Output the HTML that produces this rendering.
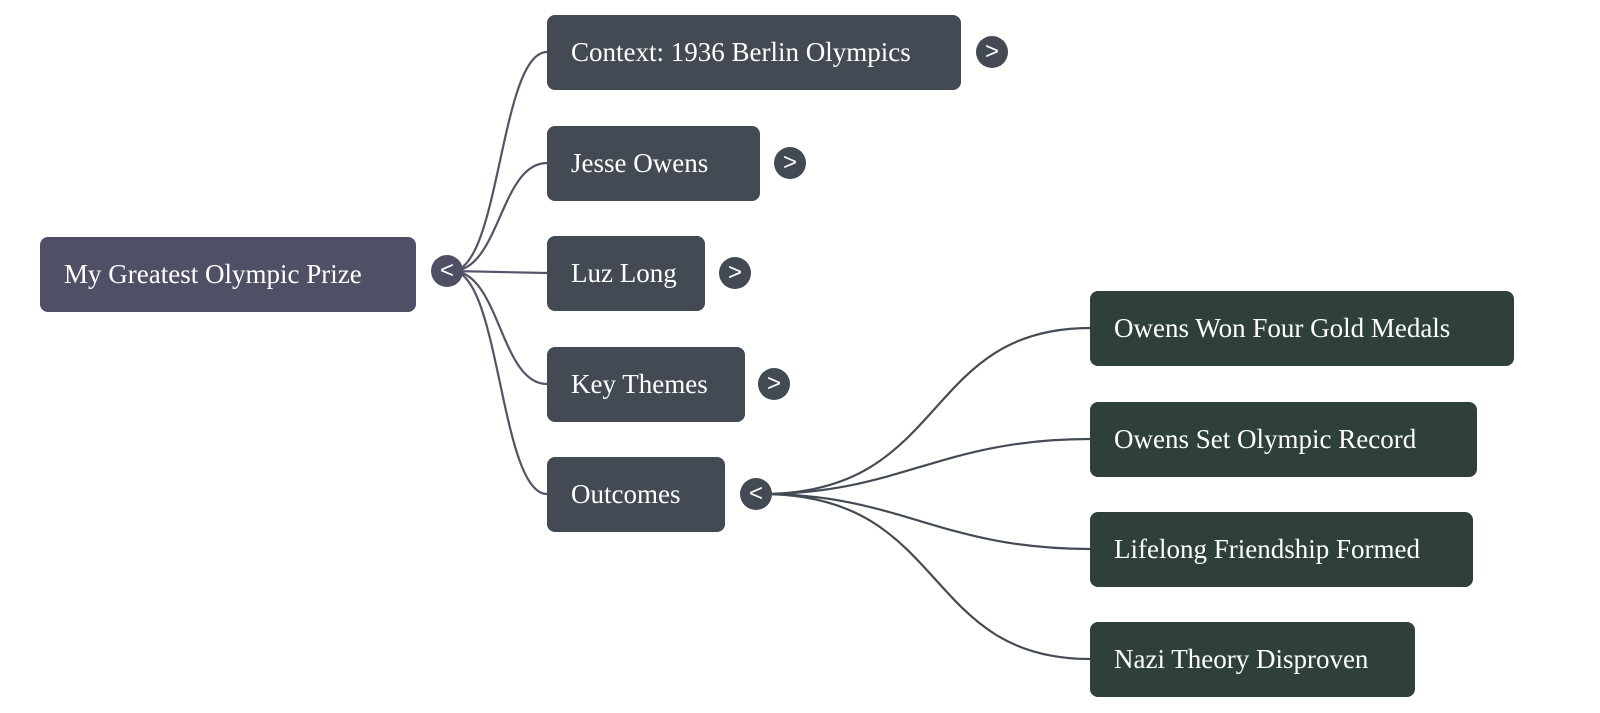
<!DOCTYPE html>
<html><head><meta charset="utf-8"><style>
body{margin:0;width:1600px;height:713px;background:#fff;position:relative;overflow:hidden;font-family:"Liberation Serif",serif;}
.b{position:absolute;border-radius:8px;color:#fff;font-size:27px;box-sizing:border-box;padding-left:24px;display:flex;align-items:center;height:75px;}
.r{background:#4f5066}.c{background:#434a53}.g{background:#2f403c}
.o{position:absolute;width:32px;height:32px;border-radius:50%;background:#434a53;color:#fff;font-family:"Liberation Sans",sans-serif;font-size:24px;line-height:31px;text-align:center;}
</style></head><body>
<svg width="1600" height="713" style="position:absolute;left:0;top:0" fill="none">
<g stroke="#545469" stroke-width="2.2">
<path d="M452 271 C500 271 500 52 547 52"/>
<path d="M452 271 C500 271 500 163 547 163"/>
<path d="M452 271 L547 273"/>
<path d="M452 271 C500 271 500 384 547 384"/>
<path d="M452 271 C500 271 500 494 547 494"/>
</g>
<g stroke="#454b55" stroke-width="2.2">
<path d="M762 494 C950 494 920 328 1090 328"/>
<path d="M762 494 C900 494 940 439 1090 439"/>
<path d="M762 494 C900 494 940 549 1090 549"/>
<path d="M762 494 C950 494 920 659 1090 659"/>
</g>
</svg>
<div class="b r" style="left:40px;top:237px;width:376px">My Greatest Olympic Prize</div>
<div class="o" style="left:431px;top:255px;background:#4f5066">&lt;</div>
<div class="b c" style="left:547px;top:15px;width:414px">Context: 1936 Berlin Olympics</div>
<div class="o" style="left:976px;top:36px">&gt;</div>
<div class="b c" style="left:547px;top:126px;width:213px">Jesse Owens</div>
<div class="o" style="left:774px;top:147px">&gt;</div>
<div class="b c" style="left:547px;top:236px;width:158px">Luz Long</div>
<div class="o" style="left:719px;top:257px">&gt;</div>
<div class="b c" style="left:547px;top:347px;width:198px">Key Themes</div>
<div class="o" style="left:758px;top:368px">&gt;</div>
<div class="b c" style="left:547px;top:457px;width:178px">Outcomes</div>
<div class="o" style="left:740px;top:478px">&lt;</div>
<div class="b g" style="left:1090px;top:291px;width:424px">Owens Won Four Gold Medals</div>
<div class="b g" style="left:1090px;top:402px;width:387px">Owens Set Olympic Record</div>
<div class="b g" style="left:1090px;top:512px;width:383px">Lifelong Friendship Formed</div>
<div class="b g" style="left:1090px;top:622px;width:325px">Nazi Theory Disproven</div>
</body></html>
